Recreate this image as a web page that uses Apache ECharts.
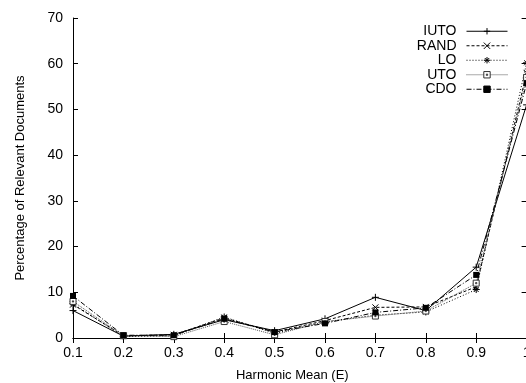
<!DOCTYPE html>
<html><head><meta charset="utf-8">
<script src="https://cdn.jsdelivr.net/npm/echarts@6/dist/echarts.min.js"></script>
<style>html,body{margin:0;padding:0;overflow:hidden;background:#fff}#c{width:526px;height:383px}</style>
</head><body><div id="c"></div>
<script>
const categories = ['0.1','0.2','0.3','0.4','0.5','0.6','0.7','0.8','0.9','1'];
const seriesNames = ['IUTO','RAND','LO','UTO','CDO'];
const iuto = [6.0, 0.4, 0.8, 4.0, 1.6, 4.2, 8.9, 6.0, 15.5, 51];
const rand = [7.3, 0.5, 0.7, 4.4, 1.3, 3.8, 6.7, 6.8, 11.2, 58];
const lo   = [7.5, 0.3, 0.5, 4.6, 1.0, 3.5, 5.0, 5.7, 10.6, 60.2];
const uto  = [8.0, 0.5, 0.3, 3.6, 0.7, 3.6, 4.8, 5.9, 12.0, 57];
const cdo  = [9.2, 0.6, 0.6, 4.2, 1.3, 3.2, 5.6, 6.6, 13.8, 55.7];
const yTicks = [0,10,20,30,40,50,60,70];

const font = '"Liberation Sans", Arial, sans-serif';
const styles = [
  {data: iuto, symbol:'path://M0,5L10,5M5,0L5,10', size:7, line:{type:'solid', color:'#000'}, item:{color:'#000', borderColor:'#000', borderWidth:1}},
  {data: rand, symbol:'path://M0,0L10,10M10,0L0,10', size:6, line:{type:[3,2], color:'#000'}, item:{color:'#000', borderColor:'#000', borderWidth:1}},
  {data: lo, symbol:'path://M0,5L10,5M5,0L5,10M1.5,1.5L8.5,8.5M8.5,1.5L1.5,8.5', size:7, line:{type:[1,2], color:'#000'}, item:{color:'#000', borderColor:'#000', borderWidth:1}},
  {data: uto, symbol:'path://M0,0L10,0L10,10L0,10ZM4,4L6,4L6,6L4,6Z', size:6, line:{type:[1,1], color:'#555'}, item:{color:'#fff', borderColor:'#333', borderWidth:1}},
  {data: cdo, symbol:'rect', size:6, line:{type:[5,2,1,2], color:'#000'}, item:{color:'#000', borderColor:'#000', borderWidth:0}}
];

const chart = echarts.init(document.getElementById('c'), null, {renderer:'canvas'});
const axisLine = {show:true, lineStyle:{color:'#000', width:1}};
chart.setOption({
  animation:false,
  backgroundColor:'#fff',
  textStyle:{fontFamily:font},
  grid:{left:73, right:-0.6, top:18, bottom:45, containLabel:false, outerBoundsMode:'none'},
  legend:{
    orient:'vertical', right:13, top:19, align:'right', padding:5,
    itemWidth:41, itemHeight:8, itemGap:0,
    lineStyle:{width:1}, itemStyle:{borderWidth:1},
    textStyle:{fontFamily:font, fontSize:14, color:'#000', lineHeight:14.5, padding:[0,5,0,0]},
    data: seriesNames
  },
  xAxis:[{
    type:'category', data:categories, boundaryGap:false,
    name:'Harmonic Mean (E)', nameLocation:'middle', nameGap:31,
    nameTextStyle:{fontFamily:font, fontSize:13, color:'#000', padding:[0,15,0,0]},
    axisLine:axisLine,
    axisTick:{show:true, inside:true, length:5, alignWithLabel:true, lineStyle:{color:'#000'}},
    axisLabel:{fontFamily:font, fontSize:14, color:'#000', margin:8},
    splitLine:{show:false}
  },{
    type:'category', data:categories, boundaryGap:false, position:'top',
    axisLine:axisLine,
    axisTick:{show:true, inside:true, length:5, lineStyle:{color:'#000'}},
    axisLabel:{show:false}, splitLine:{show:false}
  }],
  yAxis:[{
    type:'value', min:yTicks[0], max:yTicks[yTicks.length-1], interval:10,
    name:'Percentage of Relevant Documents', nameLocation:'middle', nameGap:46,
    nameTextStyle:{fontFamily:font, fontSize:13, color:'#000'},
    axisLine:axisLine,
    axisTick:{show:true, inside:true, length:5, lineStyle:{color:'#000'}},
    axisLabel:{fontFamily:font, fontSize:14, color:'#000', margin:10},
    splitLine:{show:false}
  },{
    type:'value', min:yTicks[0], max:yTicks[yTicks.length-1], interval:10, position:'right',
    axisLine:axisLine,
    axisTick:{show:true, inside:true, length:5, lineStyle:{color:'#000'}},
    axisLabel:{show:false}, splitLine:{show:false}
  }],
  series: styles.map((s,i)=>({
    name: seriesNames[i], type:'line', data:s.data,
    symbol:s.symbol, symbolSize:s.size, showAllSymbol:true,
    lineStyle:Object.assign({width:1}, s.line),
    itemStyle:s.item,
    emphasis:{disabled:true}
  }))
});
</script></body></html>
